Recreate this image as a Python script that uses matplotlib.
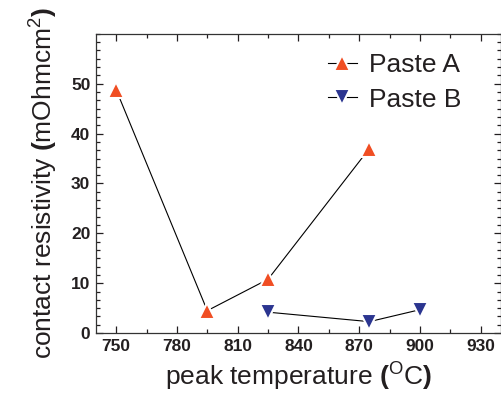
import numpy as np
import matplotlib.pyplot as plt
from matplotlib.ticker import MultipleLocator, AutoMinorLocator

plt.rcParams['font.family'] = ['Liberation Sans', 'DejaVu Sans']
plt.rcParams['mathtext.fontset'] = 'custom'
plt.rcParams['mathtext.rm'] = 'Liberation Sans'
plt.rcParams['mathtext.it'] = 'Liberation Sans'
plt.rcParams['mathtext.bf'] = 'Liberation Sans:bold'

# data
temp_a = [750, 795, 825, 875]
res_a = [48.8, 4.5, 10.8, 37.0]
temp_b = [825, 875, 900]
res_b = [4.2, 2.3, 4.7]

txt = '#231f20'
col_a = '#f04e23'
col_b = '#2b3590'

fig = plt.figure(figsize=(5.02, 3.98), dpi=100)
ax = fig.add_axes([0.191, 0.163, 0.807, 0.752])

ax.plot(temp_a, res_a, color='black', lw=0.8, marker='^', ms=11,
        mfc=col_a, mec='white', mew=1.5, label='Paste A')
ax.plot(temp_b, res_b, color='black', lw=0.8, marker='v', ms=11,
        mfc=col_b, mec='white', mew=1.5, label='Paste B')

ax.set_xlim(740, 940)
ax.set_ylim(0, 60)
ax.xaxis.set_major_locator(MultipleLocator(30))
ax.xaxis.set_minor_locator(AutoMinorLocator(2))
ax.yaxis.set_major_locator(MultipleLocator(10))
ax.yaxis.set_minor_locator(AutoMinorLocator(6))
ax.set_yticks([0, 10, 20, 30, 40, 50])

ax.tick_params(which='both', direction='in', top=True, right=True,
               colors=txt, width=0.9)
ax.tick_params(which='major', length=5, labelsize=12.5, pad=4)
ax.tick_params(which='minor', length=3)
for lab in ax.get_xticklabels() + ax.get_yticklabels():
    lab.set_fontweight('bold')
for s in ax.spines.values():
    s.set_color('#333333')
    s.set_linewidth(0.9)

ax.set_xlabel('peak temperature $\\mathbf{(}$$^{\\mathrm{O}}$C$\\mathbf{)}$',
              fontsize=19, color=txt, labelpad=5)
ax.set_ylabel('contact resistivity $\\mathbf{(}$mOhmcm$^2$$\\mathbf{)}$',
              fontsize=19, color=txt, labelpad=8)

leg = ax.legend(loc='upper right', bbox_to_anchor=(0.96, 1.015), frameon=False,
                fontsize=19, handlelength=1.1, handletextpad=0.45,
                labelspacing=0.4, numpoints=1)
for t in leg.get_texts():
    t.set_color(txt)

fig.savefig('out.png', dpi=100)
